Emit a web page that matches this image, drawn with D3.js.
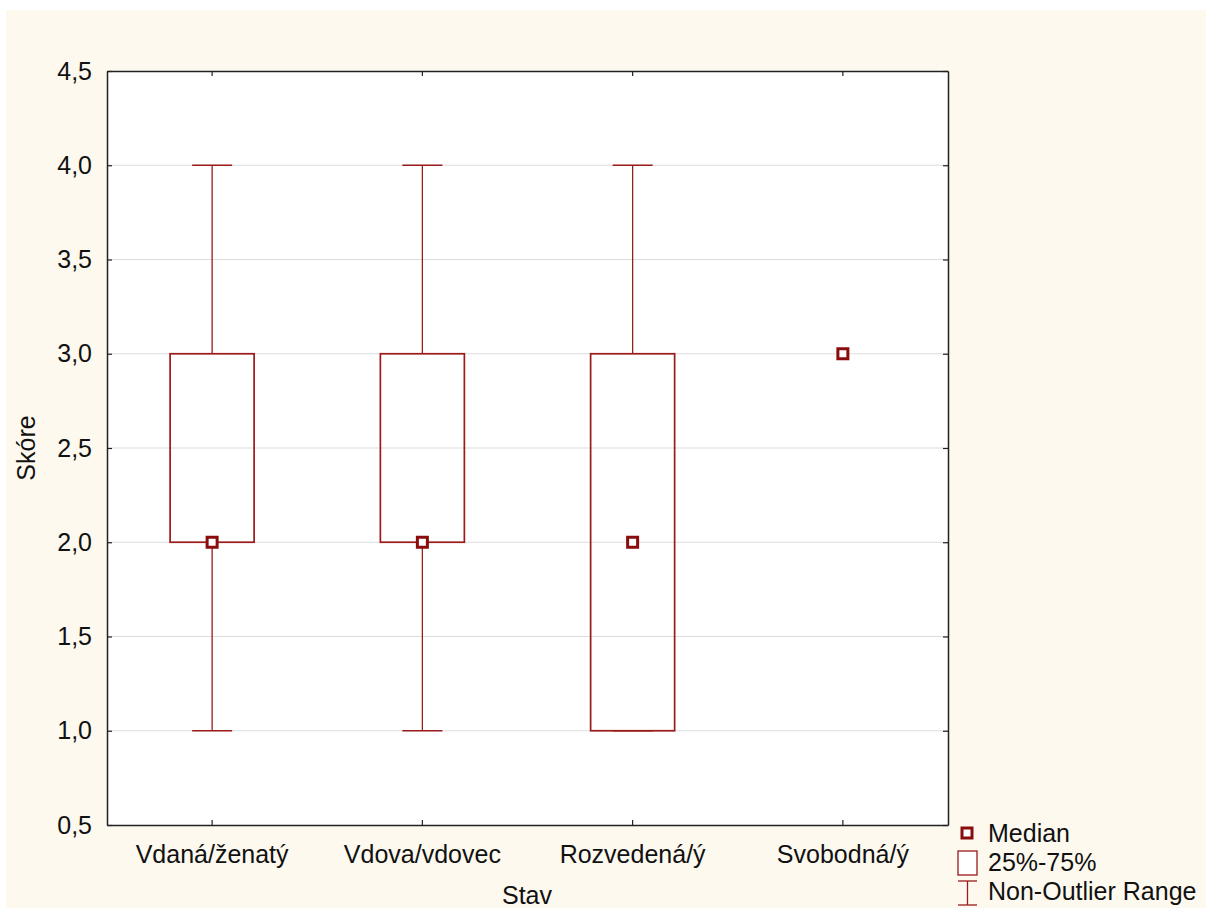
<!DOCTYPE html>
<html><head><meta charset="utf-8">
<script src="https://cdn.jsdelivr.net/npm/d3@7"></script>
<style>body{margin:0;background:#fff}svg{display:block}text{font-family:"Liberation Sans",Arial,sans-serif;fill:#111}</style>
</head><body>
<script>
const categories = ["Vdaná/ženatý","Vdova/vdovec","Rozvedená/ý","Svobodná/ý"];
const medians = [2,2,2,3];
const q1 = [2,2,1,3];
const q3 = [3,3,3,3];
const whiskerMin = [1,1,1,3];
const whiskerMax = [4,4,4,3];
const yTicks = [0.5,1,1.5,2,2.5,3,3.5,4,4.5];
const legendLabels = ["Median","25%-75%","Non-Outlier Range"];

const W=1206,H=908, red="#9b1a1a", dark="#8a0c0c", FS="25px";
const svg=d3.select("body").append("svg").attr("width",W).attr("height",H);
svg.append("rect").attr("x",6).attr("y",10).attr("width",W-6).attr("height",H-10).attr("fill","#fdf9ef");
const L=107,R=948,T=71,B=825;
const x=d3.scaleBand().domain(categories).range([L,R]);
const y=d3.scaleLinear().domain([0.5,4.5]).range([B,T]);
svg.append("rect").attr("x",L).attr("y",T).attr("width",R-L).attr("height",B-T).attr("fill","#fff");
// grid
svg.append("g").selectAll("line").data(yTicks.filter(d=>d>0.5&&d<4.5)).join("line")
 .attr("x1",L).attr("x2",R).attr("y1",d=>y(d)).attr("y2",d=>y(d)).attr("stroke","#dcdcdc").attr("stroke-width",1.2);
// axes
const fmt=d=>d3.format(".1f")(d).replace(".",",");
const ga=svg.append("g").attr("transform",`translate(${L},0)`).call(d3.axisLeft(y).tickValues(yTicks).tickFormat(fmt).tickSizeInner(-5).tickSizeOuter(0).tickPadding(15));
const gr=svg.append("g").attr("transform",`translate(${R},0)`).call(d3.axisRight(y).tickValues(yTicks).tickFormat("").tickSizeInner(-5).tickSizeOuter(0));
const gb=svg.append("g").attr("transform",`translate(0,${B})`).call(d3.axisBottom(x).tickSizeInner(-5).tickSizeOuter(0).tickPadding(20));
const gt=svg.append("g").attr("transform",`translate(0,${T})`).call(d3.axisTop(x).tickFormat("").tickSizeInner(-5).tickSizeOuter(0));
[ga,gr,gb,gt].forEach(g=>{g.select(".domain").attr("stroke","#222").attr("stroke-width",1.5);g.selectAll(".tick line").attr("stroke","#222").attr("stroke-width",1.2);g.selectAll("text").style("font-size",FS).attr("fill","#111").style("font-family","'Liberation Sans',Arial,sans-serif");});
// boxes
const g=svg.append("g");
categories.forEach((c,i)=>{
 const cx=x(c)+x.bandwidth()/2, bw=84, cw=40;
 if(whiskerMax[i]!==whiskerMin[i]){
  g.append("line").attr("x1",cx).attr("x2",cx).attr("y1",y(whiskerMax[i])).attr("y2",y(q3[i])).attr("stroke",red).attr("stroke-width",1.3);
  g.append("line").attr("x1",cx).attr("x2",cx).attr("y1",y(q1[i])).attr("y2",y(whiskerMin[i])).attr("stroke",red).attr("stroke-width",1.3);
  g.append("line").attr("x1",cx-cw/2).attr("x2",cx+cw/2).attr("y1",y(whiskerMax[i])).attr("y2",y(whiskerMax[i])).attr("stroke",red).attr("stroke-width",1.3);
  g.append("line").attr("x1",cx-cw/2).attr("x2",cx+cw/2).attr("y1",y(whiskerMin[i])).attr("y2",y(whiskerMin[i])).attr("stroke",red).attr("stroke-width",1.3);
 }
 if(q3[i]!==q1[i]) g.append("rect").attr("x",cx-bw/2).attr("y",y(q3[i])).attr("width",bw).attr("height",y(q1[i])-y(q3[i])).attr("fill","none").attr("stroke",red).attr("stroke-width",1.7);
 g.append("rect").attr("x",cx-5).attr("y",y(medians[i])-5).attr("width",10).attr("height",10).attr("fill","#fff").attr("stroke",dark).attr("stroke-width",3);
});
// axis titles
svg.append("text").attr("transform","translate(35,448) rotate(-90)").attr("text-anchor","middle").style("font-size",FS).text("Skóre");
svg.append("text").attr("x",527).attr("y",904).attr("text-anchor","middle").style("font-size",FS).text("Stav");
// legend
const lg=svg.append("g");
lg.append("rect").attr("x",962).attr("y",828).attr("width",10).attr("height",10).attr("fill","#fff").attr("stroke",dark).attr("stroke-width",3);
lg.append("rect").attr("x",958).attr("y",851).attr("width",19).attr("height",24).attr("fill","#fff").attr("stroke",red).attr("stroke-width",1.3);
lg.append("line").attr("x1",958).attr("x2",977).attr("y1",881).attr("y2",881).attr("stroke",red).attr("stroke-width",1.3);
lg.append("line").attr("x1",958).attr("x2",977).attr("y1",905).attr("y2",905).attr("stroke",red).attr("stroke-width",1.3);
lg.append("line").attr("x1",967.5).attr("x2",967.5).attr("y1",881).attr("y2",905).attr("stroke",red).attr("stroke-width",1.3);
lg.selectAll("text.l").data(legendLabels).join("text").attr("x",988).attr("y",(d,i)=>842+i*29).style("font-size",FS).text(d=>d);
</script>
</body></html>
